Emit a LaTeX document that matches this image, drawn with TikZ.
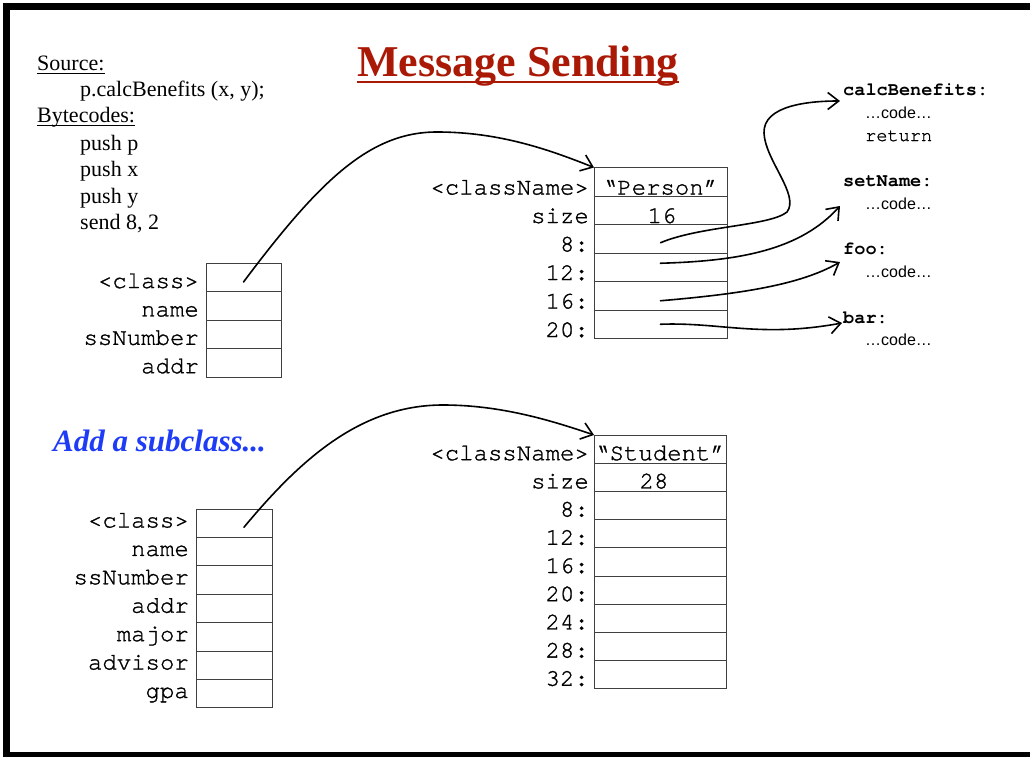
\documentclass[tikz,border=0pt]{standalone}
\usepackage{fontspec}
\setmainfont{Liberation Serif}
\setmonofont[Ligatures=NoCommon, UprightFeatures={FakeBold=1.2}]{TeX Gyre Cursor}
\newfontfamily\sansfam{Liberation Sans}
\usetikzlibrary{arrows.meta}
\definecolor{titlered}{RGB}{170,25,5}
\definecolor{noteblue}{RGB}{30,60,245}
\tikzset{
  cell/.style={draw=black!75, line width=1pt, minimum width=#1, inner sep=0pt, outer sep=0pt, anchor=north west},
  txt/.style={inner sep=0pt, anchor=base west, font=\fontsize{22}{26}\selectfont},
  mono/.style={inner sep=0pt, font=\fontsize{24}{28}\selectfont\ttfamily},
  lab/.style={mono, anchor=base east},
  val/.style={mono, anchor=base},
  meth/.style={inner sep=0pt, anchor=base west, font=\fontsize{18.6}{22}\selectfont\ttfamily\bfseries},
  body/.style={inner sep=0pt, anchor=base west, font=\fontsize{18.6}{22}\selectfont\ttfamily},
  dots/.style={inner sep=0pt, anchor=base west, font=\fontsize{16}{20}\selectfont\sansfam},
  conn/.style={line width=1.6pt, line cap=round, -{Straight Barb[length=11pt, width=17pt]}}
}
\begin{document}
\begin{tikzpicture}[x=1pt, y=-1pt]
\useasboundingbox (0,0) rectangle (1030,757);
\clip (0,0) rectangle (1030,757);

% page frame
\draw[line width=7pt] (6.5,6.5) rectangle (1040,755.5);

% title
\node[inner sep=0pt, anchor=base west, text=titlered, font=\fontsize{44}{50}\selectfont\bfseries] (title) at (357,77) {Message Sending};
\draw[titlered, line width=2.5pt] ([yshift=-5pt]title.base west) -- ([yshift=-5pt]title.base east);

% source and bytecodes
\node[txt] (src) at (37,71) {Source:};
\draw[line width=1.2pt] ([yshift=-2.5pt]src.base west) -- ([yshift=-2.5pt]src.base east);
\node[txt] (call) at (80,97) {p.calcBenefits (x, y);};
\node[txt] (byte) at (37,123) {Bytecodes:};
\draw[line width=1.2pt] ([yshift=-2.5pt]byte.base west) -- ([yshift=-2.5pt]byte.base east);
\node[txt] (bc1) at (80,150) {push p};
\node[txt] (bc2) at (80,176.5) {push x};
\node[txt] (bc3) at (80,203) {push y};
\node[txt] (bc4) at (80,229) {send 8, 2};

% Person instance
\foreach \lab [count=\i from 0] in {<class>, name, ssNumber, addr} {
  \node[cell=75pt, minimum height=28.4pt] (oc\i) at (206,263.5+\i*28.4) {};
  \node[lab] (ol\i) at (199,288+\i*28.4) {\lab};
}

% Person class
\foreach \lab [count=\i from 0] in {<className>, size, 8:, 12:, 16:, 20:} {
  \node[cell=133pt, minimum height=28.5pt] (pc\i) at (594,167.5+\i*28.5) {};
  \node[lab] (pl\i) at (589,194.5+\i*28.5) {\lab};
}
\node[val] (pname) at (660.5,194.5) {“Person”};
\node[val] (psize) at (662,223) {16};

% methods
\node[meth] (mcalc) at (843,96) {calcBenefits:};
\node[dots] (mcalca) at (865,119) {…code…};
\node[body] (mcalcb) at (865,141) {return};
\node[meth] (mset) at (843,186) {setName:};
\node[dots] (mseta) at (865,209) {…code…};
\node[meth] (mfoo) at (843,254) {foo:};
\node[dots] (mfooa) at (865,277) {…code…};
\node[meth] (mbar) at (843,323) {bar:};
\node[dots] (mbara) at (865,345) {…code…};

% subclass note
\node[inner sep=0pt, anchor=base west, text=noteblue, font=\fontsize{31}{35}\selectfont\bfseries\itshape] (note) at (53,451) {Add a subclass...};

% Student instance
\foreach \lab [count=\i from 0] in {<class>, name, ssNumber, addr, major, advisor, gpa} {
  \node[cell=76pt, minimum height=28.4pt] (sc\i) at (196,509+\i*28.4) {};
  \node[lab] (sl\i) at (189,527.5+\i*28.4) {\lab};
}

% Student class
\foreach \lab [count=\i from 0] in {<className>, size, 8:, 12:, 16:, 20:, 24:, 28:, 32:} {
  \node[cell=132pt, minimum height=28.2pt] (stc\i) at (594,435+\i*28.2) {};
  \node[lab] (stl\i) at (589,460.2+\i*28.2) {\lab};
}
\node[val] (sname) at (660,460.2) {“Student”};
\node[val] (ssize) at (654,488.4) {28};

% class pointers
\draw[conn] ([yshift=-4.3pt]oc0.center) .. controls (320,180) and (370,132) .. (437,132)
  .. controls (500,132) and (550,150) .. (pc0.north west);
\draw[conn] ([xshift=10pt,yshift=-4pt]sc0.center) .. controls (300,460) and (360,405) .. (443,405)
  .. controls (500,405) and (550,420) .. (stc0.north west);

% method table entries
\draw[conn] ([yshift=-4pt]pc2.center) .. controls (700,226) and (770,226) .. (787,212)
  .. controls (800,195) and (765,160) .. (764,133)
  .. controls (763,105) and (810,101) .. ([xshift=-3pt,yshift=-5pt]mcalc.base west);
\draw[conn] ([yshift=4pt]pc3.center) .. controls (740,261) and (800,250) .. ([xshift=-3pt,yshift=-20pt]mset.base west);
\draw[conn] ([yshift=-5pt]pc4.center) .. controls (740,294) and (800,285) .. ([xshift=-3pt,yshift=-8pt]mfoo.base west);
\draw[conn] (pc5.center) .. controls (720,322) and (760,338) .. ([xshift=-1pt]mbar.base west);
\end{tikzpicture}
\end{document}
